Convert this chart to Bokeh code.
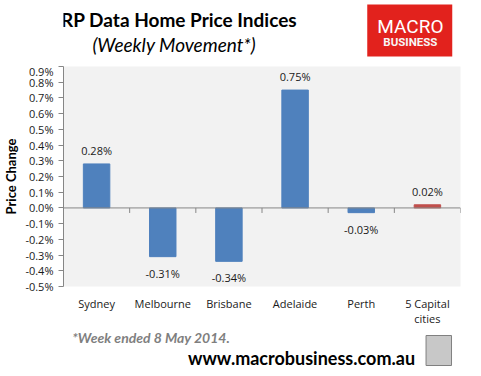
from bokeh.plotting import figure
from bokeh.layouts import column
from bokeh.models import (ColumnDataSource, FactorRange, FixedTicker, PrintfTickFormatter,
                          Span, LabelSet, Range1d)
from bokeh.core.properties import value
from bokeh.embed import file_html
from bokeh.resources import INLINE

# ---- data ----
cities = ["Sydney", "Melbourne", "Brisbane", "Adelaide", "Perth", "5 Capital\ncities"]
changes = [0.28, -0.31, -0.34, 0.75, -0.03, 0.02]          # weekly % change
bar_colors = ["#4f81bd", "#4f81bd", "#4f81bd", "#4f81bd", "#4f81bd", "#c0504d"]
y_ticks = [-0.5, -0.4, -0.3, -0.2, -0.1, 0.0, 0.1, 0.2, 0.3, 0.4, 0.5, 0.6, 0.7, 0.8, 0.9]
y_min, y_max = -0.5, 0.9

title_text = "RP Data Home Price Indices"
subtitle_text = "(Weekly Movement*)"
footnote_text = "*Week ended 8 May 2014."
url_text = "www.macrobusiness.com.au"

labels = ["%.2f%%" % v for v in changes]

W = 465
BL, BR = 55, 13          # left / right borders shared by all rows (frames are aligned)
TOP_H, BOT_H = 63, 42
lab_font = "Open Sans"


def blank(h):
    f = figure(width=W, height=h, x_range=Range1d(BL, W - BR), y_range=Range1d(h, 0),
               x_axis_type=None, y_axis_type=None, output_backend="svg",
               toolbar_location=None, outline_line_color=None,
               min_border_left=BL, min_border_right=BR,
               min_border_top=0, min_border_bottom=0)
    f.grid.visible = False
    return f


# ---- header ----
top = blank(TOP_H)
top.text(x=[173], y=[19], text=[title_text], text_align="center", text_baseline="middle",
         text_font=value("Lato"), text_font_style="bold", text_font_size="19px",
         text_color="#000000")
top.text(x=[168], y=[44], text=[subtitle_text], text_align="center", text_baseline="middle",
         text_font=value("Lato"), text_font_style="italic", text_font_size="19px",
         text_color="#000000")
top.quad(left=[365], right=[452], top=[4], bottom=[56], fill_color="#e2221d",
         line_color=None)
top.text(x=[409], y=[26], text=["MACRO"], text_align="center", text_baseline="middle",
         text_font=value("Roboto"), text_font_size="19px", text_color="white")
top.text(x=[409], y=[41], text=["BUSINESS"], text_align="center", text_baseline="middle",
         text_font=value("Roboto"), text_font_style="bold", text_font_size="11.5px",
         text_color="#f6f6f6")

# ---- chart ----
src = ColumnDataSource(dict(city=cities, change=changes, color=bar_colors, label=labels))
pos = ColumnDataSource(dict(city=[c for c, v in zip(cities, changes) if v >= 0],
                            change=[v for v in changes if v >= 0],
                            label=[l for l, v in zip(labels, changes) if v >= 0]))
neg = ColumnDataSource(dict(city=[c for c, v in zip(cities, changes) if v < 0],
                            change=[v for v in changes if v < 0],
                            label=[l for l, v in zip(labels, changes) if v < 0]))

p = figure(x_range=FactorRange(*cities), y_range=Range1d(y_min, y_max),
           frame_width=W - BL - BR, frame_height=220,
           min_border_left=BL, min_border_right=BR, min_border_top=3, min_border_bottom=36,
           output_backend="svg", toolbar_location=None,
           background_fill_color="#f2f2f2", border_fill_color="white",
           outline_line_color=None)

p.vbar(x="city", top="change", width=0.4, color="color", source=src)

p.add_layout(Span(location=0, dimension="width", line_color="#868686", line_width=1))
bounds = list(range(1, len(cities) + 1))
TICK = 0.032
p.segment(x0=bounds, y0=[0] * len(bounds), x1=bounds, y1=[-TICK] * len(bounds),
          line_color="#868686", line_width=1)

p.add_layout(LabelSet(x="city", y="change", text="label", source=pos, y_offset=6,
                      text_align="center", text_baseline="bottom",
                      text_font=value(lab_font), text_font_size="11px", text_color="#1a1a1a"))
p.add_layout(LabelSet(x="city", y="change", text="label", source=neg, y_offset=-9,
                      text_align="center", text_baseline="top",
                      text_font=value(lab_font), text_font_size="11px", text_color="#1a1a1a"))

p.grid.visible = False
p.yaxis.ticker = FixedTicker(ticks=y_ticks)
p.yaxis.formatter = PrintfTickFormatter(format="%.1f%%")
p.yaxis.minor_tick_line_color = None
p.yaxis.major_tick_in = 0
p.yaxis.major_tick_out = 5
p.yaxis.axis_line_color = "#868686"
p.yaxis.major_tick_line_color = "#868686"
p.yaxis.major_label_standoff = 5
p.yaxis.major_label_text_font = lab_font
p.yaxis.major_label_text_font_size = "11px"
p.yaxis.major_label_text_color = "#1a1a1a"
p.yaxis.axis_label = "Price Change"
p.yaxis.axis_label_text_font = "Lato"
p.yaxis.axis_label_text_font_style = "bold"
p.yaxis.axis_label_text_font_size = "13px"
p.yaxis.axis_label_text_color = "#000000"
p.yaxis.axis_label_standoff = 3

p.xaxis.axis_line_color = None
p.xaxis.major_tick_line_color = None
p.xaxis.major_tick_in = 0
p.xaxis.major_tick_out = 0
p.xaxis.major_label_standoff = 9
p.xaxis.major_label_text_line_height = 1.0
p.xaxis.major_label_text_font = lab_font
p.xaxis.major_label_text_font_size = "11px"
p.xaxis.major_label_text_color = "#1a1a1a"

# ---- footer ----
bot = blank(BOT_H)
bot.text(x=[64], y=[9], text=[footnote_text], text_align="left", text_baseline="middle",
         text_font=value("Lato"), text_font_style="bold italic", text_font_size="14px",
         text_color="#7f7f7f")
bot.text(x=[182], y=[29], text=[url_text], text_align="left", text_baseline="middle",
         text_font=value("Lato"), text_font_style="bold", text_font_size="18px",
         text_color="#000000")
bot.quad(left=[425], right=[451], top=[7], bottom=[37], fill_color="#c8c8c8",
         line_color="#808080", line_width=1)

layout = column(top, p, bot, spacing=0)
open("out.html", "w").write(file_html(layout, INLINE))
